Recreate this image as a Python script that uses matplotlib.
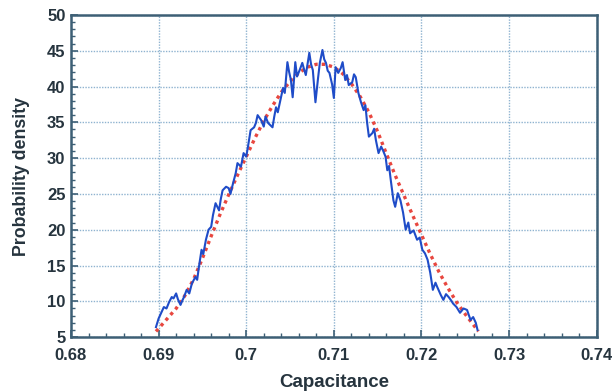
import matplotlib
matplotlib.use("Agg")
import matplotlib.pyplot as plt
from matplotlib.ticker import MultipleLocator

blue_x = [0.6897, 0.6900, 0.6903, 0.6906, 0.6909, 0.6912, 0.6915, 0.6917, 0.6920, 0.6922,
          0.6925, 0.6927, 0.6929, 0.6932, 0.6935, 0.6938, 0.6942, 0.6944, 0.6946, 0.6949,
          0.6951, 0.6954, 0.6957, 0.6960, 0.6962, 0.6965, 0.6969, 0.6971, 0.6973, 0.6977,
          0.6980, 0.6982, 0.6985, 0.6988, 0.6990, 0.6994, 0.6997, 0.7000, 0.7002, 0.7005,
          0.7009, 0.7011, 0.7013, 0.7017, 0.7020, 0.7022, 0.7025, 0.7030, 0.7032, 0.7034,
          0.7036, 0.7039, 0.7042, 0.7044, 0.7047, 0.7049, 0.7051, 0.7053, 0.7056, 0.7058,
          0.7061, 0.7064, 0.7066, 0.7068, 0.7072, 0.7074, 0.7076, 0.7079, 0.7082, 0.7084,
          0.7087, 0.7089, 0.7091, 0.7093, 0.7095, 0.7098, 0.7100, 0.7102, 0.7105, 0.7108,
          0.7110, 0.7113, 0.7115, 0.7117, 0.7121, 0.7123, 0.7125, 0.7128, 0.7131, 0.7134,
          0.7136, 0.7138, 0.7140, 0.7144, 0.7146, 0.7148, 0.7151, 0.7154, 0.7156, 0.7159,
          0.7161, 0.7163, 0.7165, 0.7168, 0.7170, 0.7173, 0.7176, 0.7179, 0.7182, 0.7185,
          0.7187, 0.7191, 0.7195, 0.7198, 0.7201, 0.7204, 0.7207, 0.7210, 0.7213, 0.7216,
          0.7218, 0.7222, 0.7225, 0.7228, 0.7231, 0.7234, 0.7236, 0.7240, 0.7244, 0.7248,
          0.7252, 0.7254, 0.7256, 0.7259, 0.7262, 0.7264]
blue_y = [6.4, 7.6, 8.4, 9.2, 9.0, 9.9, 10.6, 10.4, 11.1, 10.3,
          9.5, 10.1, 10.6, 11.6, 11.1, 12.5, 13.4, 13.0, 14.8, 17.2,
          16.6, 18.6, 20.0, 20.4, 22.0, 23.7, 22.7, 24.3, 25.5, 26.0,
          25.8, 25.0, 26.5, 27.9, 29.3, 28.8, 30.7, 30.2, 31.6, 33.9,
          34.3, 34.9, 36.0, 35.3, 34.4, 35.8, 34.9, 34.3, 35.8, 37.1,
          36.4, 38.1, 39.8, 39.1, 43.4, 42.0, 40.9, 38.5, 43.4, 41.4,
          42.3, 43.3, 42.4, 41.6, 44.7, 43.1, 42.3, 37.8, 41.2, 43.3,
          45.1, 43.8, 43.3, 42.2, 41.9, 40.3, 38.4, 42.7, 41.9, 42.6,
          43.4, 40.9, 41.6, 40.2, 40.6, 41.7, 41.3, 39.1, 37.8, 36.7,
          37.4, 34.9, 33.0, 33.5, 34.1, 32.5, 30.7, 31.6, 31.1, 30.2,
          28.3, 28.9, 26.9, 24.1, 23.2, 25.1, 24.1, 22.4, 20.0, 21.0,
          19.5, 19.9, 18.6, 18.9, 17.2, 16.7, 15.8, 14.0, 11.6, 12.6,
          12.0, 10.9, 10.2, 11.0, 10.6, 10.1, 9.7, 9.2, 8.4, 9.0,
          8.8, 8.1, 7.4, 7.8, 7.0, 6.0]

# fitted curve (red dotted)
fit_x = [0.6897, 0.690, 0.691, 0.692, 0.693, 0.694, 0.695, 0.696, 0.697, 0.698,
         0.699, 0.700, 0.701, 0.702, 0.703, 0.704, 0.705, 0.706, 0.707, 0.708,
         0.709, 0.710, 0.711, 0.712, 0.713, 0.714, 0.715, 0.716, 0.717, 0.718,
         0.719, 0.720, 0.721, 0.722, 0.723, 0.724, 0.725, 0.726, 0.7265]
fit_y = [5.8, 6.2, 7.6, 9.0, 10.8, 13.1, 16.0, 19.1, 22.1, 24.9,
         27.6, 30.2, 32.8, 35.2, 37.3, 39.2, 40.7, 41.9, 42.7, 43.1,
         43.1, 42.7, 41.8, 40.4, 38.6, 36.4, 33.7, 30.6, 27.6, 24.8,
         22.0, 19.3, 16.6, 14.1, 11.9, 9.9, 8.2, 6.6, 5.8]

spine_col = "#3d5f75"
text_col = "#26343e"

plt.rcParams['font.family'] = ['Liberation Sans', 'DejaVu Sans']

fig = plt.figure(figsize=(6.12, 3.92), dpi=100)
ax = fig.add_axes([0.116, 0.140, 0.859, 0.822])

ax.plot(fit_x, fit_y, color="#e8473f", linestyle=(0, (1, 1.2)), linewidth=2.4, zorder=3)
ax.plot(blue_x, blue_y, color="#1f4cc8", linewidth=1.5, zorder=4)

ax.set_xlim(0.68, 0.74)
ax.set_ylim(5, 50)
ax.xaxis.set_minor_locator(MultipleLocator(0.002))
ax.yaxis.set_major_locator(MultipleLocator(5))
ax.yaxis.set_minor_locator(MultipleLocator(1))
ax.set_xticks([0.68, 0.69, 0.70, 0.71, 0.72, 0.73, 0.74])
ax.set_xticklabels(["0.68", "0.69", "0.7", "0.71", "0.72", "0.73", "0.74"])

ax.grid(True, which="major", color="#8fb3d0", linestyle=(0, (1, 1)), linewidth=1.0)
ax.set_axisbelow(True)

for s in ax.spines.values():
    s.set_color(spine_col)
    s.set_linewidth(1.8)

ax.tick_params(which="both", direction="in", color=spine_col, top=False, right=False)
ax.tick_params(which="major", length=5, width=1.2, labelsize=12, labelcolor=text_col)
ax.tick_params(which="minor", length=3, width=1.0)
ax.tick_params(axis="x", pad=8)
ax.tick_params(axis="y", pad=4)
for lab in ax.get_xticklabels() + ax.get_yticklabels():
    lab.set_fontweight("bold")

ax.set_xlabel("Capacitance", fontsize=13.5, fontweight="bold", color=text_col, labelpad=8)
ax.set_ylabel("Probability density", fontsize=12.8, fontweight="bold", color=text_col, labelpad=12)

fig.savefig("out.png", dpi=100, facecolor="white")
